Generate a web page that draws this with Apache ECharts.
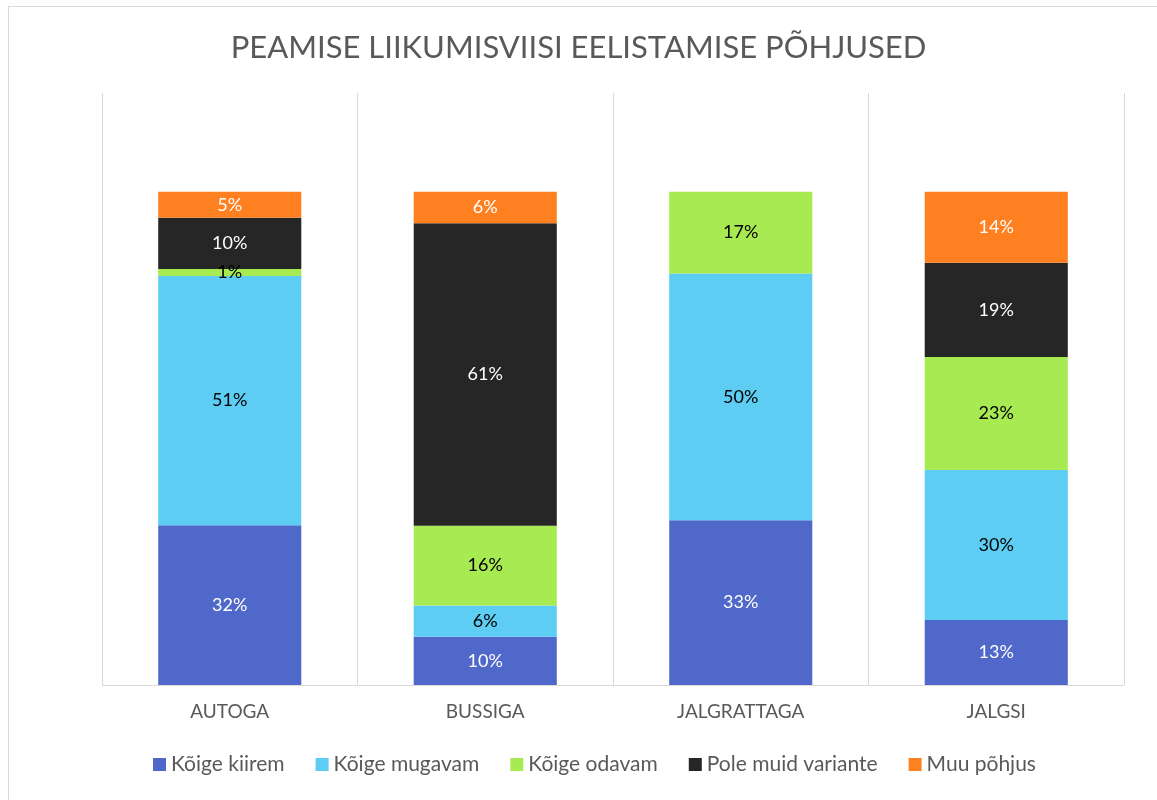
<!DOCTYPE html>
<html>
<head>
<meta charset="utf-8">
<script src="https://cdn.jsdelivr.net/npm/echarts@6/dist/echarts.min.js"></script>
<style>
  html, body { margin: 0; padding: 0; background: #fff; }
  #frame { position: absolute; left: 8px; top: 6px; width: 1160px; height: 810px; border: 1px solid #d9d9d9; }
  #chart { position: absolute; left: 0; top: 0; width: 1157px; height: 800px; }
</style>
</head>
<body>
<div id="frame"></div>
<div id="chart"></div>
<script>
var categories = ['AUTOGA', 'BUSSIGA', 'JALGRATTAGA', 'JALGSI']
var seriesNames = ['Kõige kiirem', 'Kõige mugavam', 'Kõige odavam', 'Pole muid variante', 'Muu põhjus']
var colors = ['#4f68c9', '#5ecdf3', '#a8ea52', '#262626', '#ff8021']
var labelColors = ['#ffffff', '#000000', '#000000', '#ffffff', '#ffffff']

// osakaalud protsentides (loetud pildilt)
var kiirem = [32.4, 9.8, 33.4, 13.2]
var mugavam = [50.5, 6.3, 50.0, 30.4]
var odavam = [1.4, 16.2, 16.6, 22.9]
var poleMuid = [10.4, 61.3, 0, 19.1]
var muu = [5.3, 6.4, 0, 14.4]
var values = [kiirem, mugavam, odavam, poleMuid, muu]

var myChart = echarts.init(document.getElementById('chart'))

var series = seriesNames.map(function (name, i) {
    return {
        name: name,
        type: 'bar',
        stack: 'total',
        barWidth: '56%',
        itemStyle: { color: colors[i] },
        label: {
            show: true,
            position: 'inside',
            color: labelColors[i],
            fontFamily: 'Lato',
            fontSize: 18,
            formatter: function (p) {
                return p.value > 0 ? Math.round(p.value) + '%' : ''
            }
        },
        data: values[i]
    }
})

var option = {
    animation: false,
    title: {
        text: 'PEAMISE LIIKUMISVIISI EELISTAMISE PÕHJUSED',
        left: 'center',
        top: 27,
        textStyle: {
            fontFamily: 'Lato',
            fontWeight: 'normal',
            fontSize: 31,
            color: '#595959'
        }
    },
    legend: {
        left: 148,
        top: 749,
        icon: 'rect',
        itemWidth: 13,
        itemHeight: 13,
        itemGap: 31,
        textStyle: {
            fontFamily: 'Lato',
            fontSize: 21,
            color: '#595959'
        },
        data: seriesNames
    },
    grid: {
        left: 102,
        right: 33,
        top: 93,
        bottom: 115
    },
    xAxis: {
        type: 'category',
        data: categories,
        axisLine: { lineStyle: { color: '#d9d9d9', width: 1 } },
        axisTick: { show: false },
        splitLine: { show: true, lineStyle: { color: '#d9d9d9', width: 1 } },
        axisLabel: {
            margin: 17,
            fontFamily: 'Lato',
            fontSize: 19,
            color: '#595959'
        }
    },
    yAxis: {
        type: 'value',
        min: 0,
        max: 120,
        show: false,
        splitLine: { show: false }
    },
    series: series
}

myChart.setOption(option)
</script>
</body>
</html>
